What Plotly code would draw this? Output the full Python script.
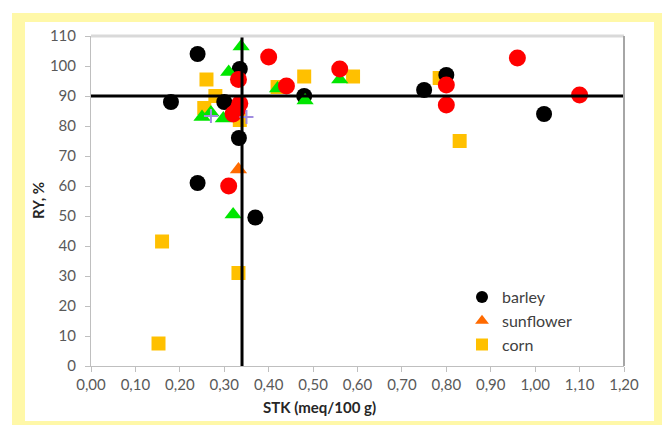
import plotly.graph_objects as go

# ---- data ----
barley_x = [0.24, 0.335, 0.18, 0.30, 0.333, 0.24, 0.37, 0.48, 0.75, 0.80, 1.02]
barley_y = [104, 99, 88, 88, 76, 61, 49.5, 90, 92, 97, 84]

sunflower_x = [0.332]
sunflower_y = [65.5]

corn_x = [0.26, 0.28, 0.255, 0.335, 0.42, 0.48, 0.59, 0.785, 0.83, 0.16, 0.332, 0.152]
corn_y = [95.5, 90, 86, 82, 93, 96.5, 96.5, 96, 75, 41.5, 31, 7.5]

green_x = [0.338, 0.31, 0.27, 0.25, 0.298, 0.42, 0.482, 0.56, 0.32]
green_y = [106.5, 98, 84.5, 83, 82.5, 92.5, 88.5, 95.5, 50.5]

red_x = [0.40, 0.332, 0.335, 0.33, 0.32, 0.31, 0.44, 0.56, 0.80, 0.80, 0.96, 1.10]
red_y = [103, 95.5, 87.5, 85.5, 84, 60, 93.3, 99, 93.7, 87, 102.7, 90.3]

cross_x = [0.27, 0.35]
cross_y = [83.3, 83]

ry_threshold = 90      # horizontal reference line (RY %)
stk_threshold = 0.34   # vertical reference line (STK)

x_range = [0, 1.2]
y_range = [0, 110]

fig = go.Figure()

fig.add_trace(go.Scatter(x=corn_x, y=corn_y, mode="markers", name="corn",
                         marker=dict(symbol="square", size=14, color="#FFC000"),
                         legendrank=3))
fig.add_trace(go.Scatter(x=barley_x, y=barley_y, mode="markers", name="barley",
                         marker=dict(symbol="circle", size=16, color="#000000"),
                         legendrank=1))
fig.add_trace(go.Scatter(x=sunflower_x, y=sunflower_y, mode="markers", name="sunflower",
                         marker=dict(symbol="triangle-up", size=15, color="#FF6A00"),
                         legendrank=2))
fig.add_trace(go.Scatter(x=green_x, y=green_y, mode="markers", name="green",
                         marker=dict(symbol="triangle-up", size=15, color="#00E600"),
                         showlegend=False))
fig.add_trace(go.Scatter(x=red_x, y=red_y, mode="markers", name="red",
                         marker=dict(symbol="circle", size=17, color="#FF0000"),
                         showlegend=False))
fig.add_trace(go.Scatter(x=cross_x, y=cross_y, mode="markers", name="cross",
                         marker=dict(symbol="cross-thin", size=10, color="#A08CE0",
                                     line=dict(width=2, color="#A08CE0")),
                         showlegend=False))

# reference lines
fig.add_trace(go.Scatter(x=x_range, y=[ry_threshold, ry_threshold], mode="lines",
                         line=dict(color="black", width=3), showlegend=False,
                         hoverinfo="skip"))
fig.add_trace(go.Scatter(x=[stk_threshold, stk_threshold], y=y_range, mode="lines",
                         line=dict(color="black", width=3), showlegend=False,
                         hoverinfo="skip"))

L, R, T, B = 91, 38, 36, 59
W, H = 662, 425
pw, ph = W - L - R, H - T - B

def px(x):
    return (x - L) / pw

def py(y):
    return (H - B - y) / ph

font_family = "Lato, 'Open Sans', sans-serif"

fig.update_layout(
    width=W, height=H,
    margin=dict(l=L, r=R, t=T, b=B, pad=0),
    paper_bgcolor="white", plot_bgcolor="white",
    separators=",.",
    font=dict(family=font_family, size=15, color="#595959"),
    showlegend=True,
    legend=dict(x=px(462), y=py(280), xanchor="left", yanchor="top",
                bgcolor="rgba(0,0,0,0)", font=dict(size=16, color="#404040"),
                tracegroupgap=0, itemwidth=30, itemsizing="constant"),
    xaxis=dict(range=x_range, dtick=0.1, tick0=0, tickformat=".2f",
               showgrid=False, zeroline=False, showline=True, linecolor="#BFBFBF",
               linewidth=1, ticks="outside", ticklen=5, tickcolor="#BFBFBF",
               tickfont=dict(size=15, color="#595959")),
    yaxis=dict(range=y_range, dtick=10, tick0=0,
               showgrid=False, zeroline=False, showline=True, linecolor="#BFBFBF",
               linewidth=1, ticks="outside", ticklen=5, tickcolor="#BFBFBF",
               ticklabelstandoff=6,
               tickfont=dict(size=15, color="#595959")),
    shapes=[
        dict(type="rect", xref="paper", yref="paper", layer="below",
             x0=px(12), x1=px(662), y0=py(425), y1=py(13),
             fillcolor="#FFF8A8", line=dict(width=0)),
        dict(type="rect", xref="paper", yref="paper", layer="below",
             x0=px(25), x1=px(654), y0=py(421), y1=py(22),
             fillcolor="white", line=dict(width=0)),
        dict(type="line", xref="paper", yref="paper", layer="above",
             x0=0, x1=1, y0=1, y1=1, line=dict(color="#D9D9D9", width=3)),
        dict(type="line", xref="paper", yref="paper", layer="above",
             x0=1, x1=1, y0=0, y1=1, line=dict(color="#A6A6A6", width=2)),
    ],
    annotations=[
        dict(text="<b>RY, %</b>", xref="paper", yref="paper", x=px(38), y=0.5,
             textangle=-90, showarrow=False, xanchor="center", yanchor="middle",
             font=dict(size=15, color="#262626", family=font_family)),
        dict(text="<b>STK (meq/100 g)</b>", xref="paper", yref="paper",
             x=px(319), y=py(407), showarrow=False, xanchor="center", yanchor="middle",
             font=dict(size=15, color="#262626", family=font_family)),
    ],
)

fig.write_html("out.html", config={"displayModeBar": False},
               post_script="document.body.style.margin='0px';")
